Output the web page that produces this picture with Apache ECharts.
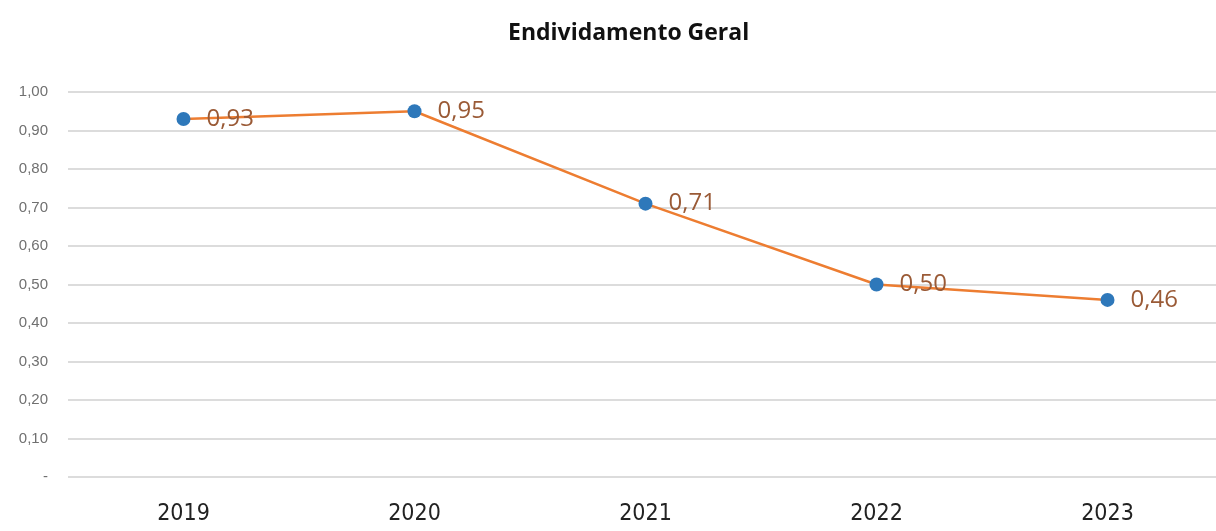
<!DOCTYPE html>
<html><head><meta charset="utf-8">
<script src="https://cdn.jsdelivr.net/npm/echarts@6/dist/echarts.min.js"></script>
<style>html,body{margin:0;padding:0;background:#fff;overflow:hidden;width:1216px;height:531px}#c{width:1223px;height:531px}</style>
</head><body><div id="c"></div>
<script>
const title = 'Endividamento Geral';
const years = ['2019', '2020', '2021', '2022', '2023'];
const values = [0.93, 0.95, 0.71, 0.50, 0.46];
const yMin = 0, yMax = 1, yStep = 0.1;

const fmt = v => v.toFixed(2).replace('.', ',');
const titleFont = 'bold 23px "Open Sans"';
const mctx = document.createElement('canvas').getContext('2d');
mctx.font = titleFont;
const titleW = mctx.measureText(title).width;

const chart = echarts.init(document.getElementById('c'));
chart.setOption({
  backgroundColor: '#ffffff',
  animation: false,
  title: {
    text: title, left: Math.round(624 - titleW / 2), top: 17,
    textStyle: { fontFamily: 'Open Sans', fontWeight: 'bold', fontSize: 23, color: '#111' }
  },
  grid: { left: 68, right: 0, top: 92, bottom: 54 },
  xAxis: {
    type: 'category', data: years, boundaryGap: true,
    axisLine: { show: false }, axisTick: { show: false },
    axisLabel: { fontFamily: '"DejaVu Sans Condensed", "Liberation Sans", sans-serif', fontSize: 23, color: '#222', margin: 26 }
  },
  yAxis: {
    type: 'value', min: yMin, max: yMax, interval: yStep,
    axisLine: { show: false }, axisTick: { show: false },
    splitLine: { lineStyle: { color: '#dcdcdc', width: 2 } },
    axisLabel: {
      fontFamily: 'Liberation Sans', fontSize: 15, color: '#707070', margin: 20,
      formatter: v => Math.abs(v) < 1e-9 ? '-' : fmt(v)
    }
  },
  series: [{
    type: 'line', data: values,
    symbol: 'circle', symbolSize: 14,
    lineStyle: { color: '#ED7D31', width: 2.5 },
    itemStyle: { color: '#2E78BA' },
    label: {
      show: true, position: 'right', distance: 16,
      fontFamily: 'Open Sans', fontSize: 24, color: '#9A5A36',
      formatter: p => fmt(p.value)
    }
  }]
});
</script></body></html>
